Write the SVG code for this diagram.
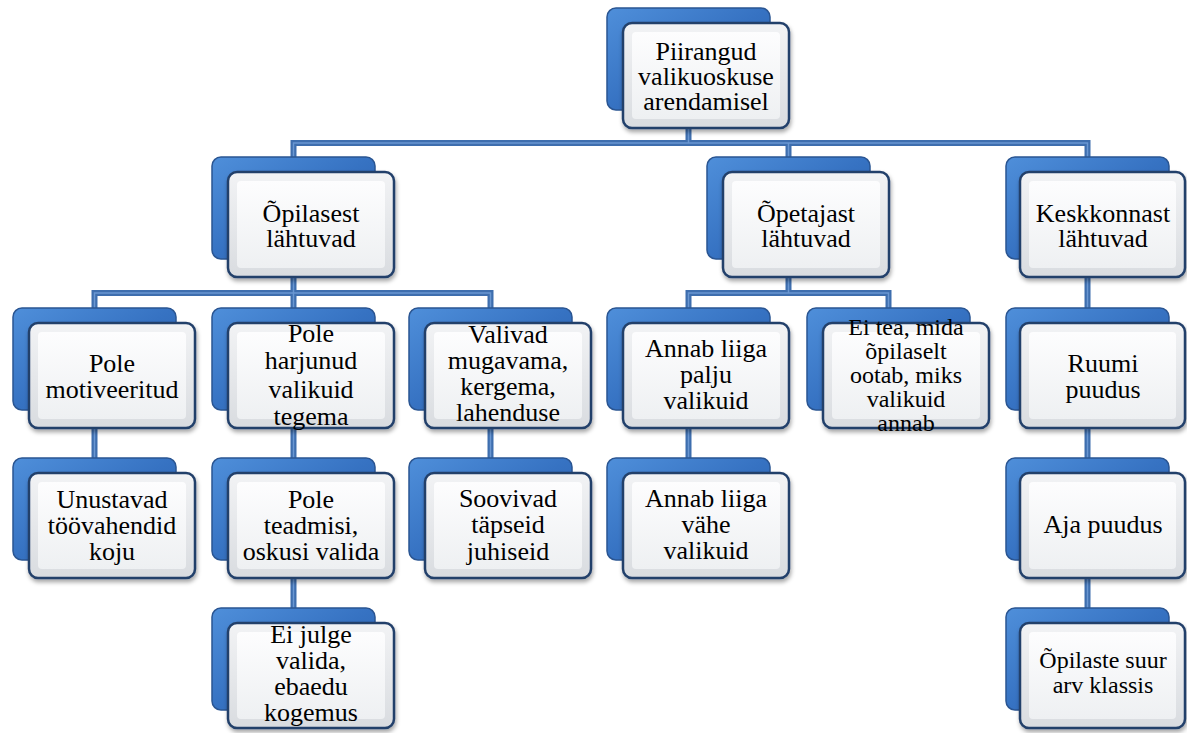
<svg xmlns="http://www.w3.org/2000/svg" width="1187" height="733" viewBox="0 0 1187 733">
<defs>
<linearGradient id="gBack" x1="0" y1="0" x2="1" y2="1">
<stop offset="0" stop-color="#4F8FDA"/>
<stop offset="0.5" stop-color="#3672C2"/>
<stop offset="1" stop-color="#2A5DA5"/>
</linearGradient>
<linearGradient id="gFront" x1="0" y1="0" x2="0" y2="1">
<stop offset="0" stop-color="#F2F3F5"/>
<stop offset="1" stop-color="#D9DCE0"/>
</linearGradient>
<linearGradient id="gInner" x1="0" y1="0" x2="0" y2="1">
<stop offset="0" stop-color="#FDFDFE"/>
<stop offset="1" stop-color="#EEF0F2"/>
</linearGradient>
<filter id="sh" x="-10%" y="-10%" width="125%" height="130%">
<feDropShadow dx="1" dy="3" stdDeviation="2" flood-color="#000" flood-opacity="0.35"/>
</filter>
</defs>
<style>
.back{fill:url(#gBack);stroke:#2A5592;stroke-width:1.5}
.front{fill:url(#gFront);stroke:#213F6B;stroke-width:2.5;filter:url(#sh)}
.inner{fill:url(#gInner);stroke:none}
.c{fill:none;stroke:#3E6EAE;stroke-width:6}
.ci{fill:none;stroke:#6A97D2;stroke-width:1.5}
.t{font-size:26px;fill:#000;text-anchor:middle}
.s24{font-size:24px}
</style>
<rect width="1187" height="733" fill="#FFFFFF"/>
<g id="connectors">
<path class="c" d="M688.5 120V143M293.5 160V143H1087.5V160M788.5 143V160M293.5 270V293M94.5 312V293H490.5V312M293.5 293V312M788.5 270V293M688.5 312V293H888.5V312M1087.5 270V312M94.5 420V462M293.5 420V612M490.5 420V462M688.5 420V462M1087.5 420V612"/>
<path class="ci" d="M688.5 120V143M293.5 160V143H1087.5V160M788.5 143V160M293.5 270V293M94.5 312V293H490.5V312M293.5 293V312M788.5 270V293M688.5 312V293H888.5V312M1087.5 270V312M94.5 420V462M293.5 420V612M490.5 420V462M688.5 420V462M1087.5 420V612"/>
</g>
<g font-family="'Liberation Serif', 'Times New Roman', Times, serif">
<g id="n0">
<rect class="back" x="607" y="8" width="163" height="102" rx="9"/>
<rect class="front" x="623" y="23" width="166" height="105" rx="9"/>
<rect class="inner" x="632" y="32" width="148" height="87" rx="4"/>
<text class="t" font-family="'Liberation Serif', serif" x="706" y="60">Piirangud<tspan x="706" dy="25">valikuoskuse</tspan><tspan x="706" dy="25">arendamisel</tspan></text>
</g>
<g id="n1">
<rect class="back" x="212" y="157" width="163" height="102" rx="9"/>
<rect class="front" x="228" y="172" width="166" height="105" rx="9"/>
<rect class="inner" x="237" y="181" width="148" height="87" rx="4"/>
<text class="t" font-family="'Liberation Serif', serif" x="311" y="222">Õpilasest<tspan x="311" dy="25">lähtuvad</tspan></text>
</g>
<g id="n2">
<rect class="back" x="707" y="157" width="163" height="102" rx="9"/>
<rect class="front" x="723" y="172" width="166" height="105" rx="9"/>
<rect class="inner" x="732" y="181" width="148" height="87" rx="4"/>
<text class="t" font-family="'Liberation Serif', serif" x="806" y="222">Õpetajast<tspan x="806" dy="25">lähtuvad</tspan></text>
</g>
<g id="n3">
<rect class="back" x="1006" y="157" width="163" height="102" rx="9"/>
<rect class="front" x="1020" y="172" width="165" height="105" rx="9"/>
<rect class="inner" x="1029" y="181" width="147" height="87" rx="4"/>
<text class="t" font-family="'Liberation Serif', serif" x="1103" y="222">Keskkonnast<tspan x="1103" dy="25">lähtuvad</tspan></text>
</g>
<g id="n4">
<rect class="back" x="13" y="308" width="163" height="102" rx="9"/>
<rect class="front" x="29" y="323" width="166" height="105" rx="9"/>
<rect class="inner" x="38" y="332" width="148" height="87" rx="4"/>
<text class="t" font-family="'Liberation Serif', serif" x="112" y="372">Pole<tspan x="112" dy="26">motiveeritud</tspan></text>
</g>
<g id="n5">
<rect class="back" x="212" y="308" width="163" height="102" rx="9"/>
<rect class="front" x="228" y="323" width="166" height="105" rx="9"/>
<rect class="inner" x="237" y="332" width="148" height="87" rx="4"/>
<text class="t" font-family="'Liberation Serif', serif" x="311" y="342">Pole<tspan x="311" dy="27">harjunud</tspan><tspan x="311" dy="29">valikuid</tspan><tspan x="311" dy="27">tegema</tspan></text>
</g>
<g id="n6">
<rect class="back" x="409" y="308" width="163" height="102" rx="9"/>
<rect class="front" x="425" y="323" width="166" height="105" rx="9"/>
<rect class="inner" x="434" y="332" width="148" height="87" rx="4"/>
<text class="t" font-family="'Liberation Serif', serif" x="508" y="343">Valivad<tspan x="508" dy="26">mugavama,</tspan><tspan x="508" dy="26">kergema,</tspan><tspan x="508" dy="26">lahenduse</tspan></text>
</g>
<g id="n7">
<rect class="back" x="607" y="308" width="163" height="102" rx="9"/>
<rect class="front" x="623" y="323" width="166" height="105" rx="9"/>
<rect class="inner" x="632" y="332" width="148" height="87" rx="4"/>
<text class="t" font-family="'Liberation Serif', serif" x="706" y="357">Annab liiga<tspan x="706" dy="26">palju</tspan><tspan x="706" dy="26">valikuid</tspan></text>
</g>
<g id="n8">
<rect class="back" x="807" y="308" width="163" height="102" rx="9"/>
<rect class="front" x="823" y="323" width="166" height="105" rx="9"/>
<rect class="inner" x="832" y="332" width="148" height="87" rx="4"/>
<text class="t s24" font-family="'Liberation Serif', serif" x="906" y="335">Ei tea, mida<tspan x="906" dy="24">õpilaselt</tspan><tspan x="906" dy="24">ootab, miks</tspan><tspan x="906" dy="24">valikuid</tspan><tspan x="906" dy="24">annab</tspan></text>
</g>
<g id="n9">
<rect class="back" x="1006" y="308" width="163" height="102" rx="9"/>
<rect class="front" x="1020" y="323" width="165" height="105" rx="9"/>
<rect class="inner" x="1029" y="332" width="147" height="87" rx="4"/>
<text class="t" font-family="'Liberation Serif', serif" x="1103" y="372">Ruumi<tspan x="1103" dy="26">puudus</tspan></text>
</g>
<g id="n10">
<rect class="back" x="13" y="458" width="163" height="102" rx="9"/>
<rect class="front" x="29" y="473" width="166" height="105" rx="9"/>
<rect class="inner" x="38" y="482" width="148" height="87" rx="4"/>
<text class="t" font-family="'Liberation Serif', serif" x="112" y="508">Unustavad<tspan x="112" dy="26">töövahendid</tspan><tspan x="112" dy="26">koju</tspan></text>
</g>
<g id="n11">
<rect class="back" x="212" y="458" width="163" height="102" rx="9"/>
<rect class="front" x="228" y="473" width="166" height="105" rx="9"/>
<rect class="inner" x="237" y="482" width="148" height="87" rx="4"/>
<text class="t" font-family="'Liberation Serif', serif" x="311" y="508">Pole<tspan x="311" dy="26">teadmisi,</tspan><tspan x="311" dy="26">oskusi valida</tspan></text>
</g>
<g id="n12">
<rect class="back" x="409" y="458" width="163" height="102" rx="9"/>
<rect class="front" x="425" y="473" width="166" height="105" rx="9"/>
<rect class="inner" x="434" y="482" width="148" height="87" rx="4"/>
<text class="t" font-family="'Liberation Serif', serif" x="508" y="507">Soovivad<tspan x="508" dy="26">täpseid</tspan><tspan x="508" dy="27">juhiseid</tspan></text>
</g>
<g id="n13">
<rect class="back" x="607" y="458" width="163" height="102" rx="9"/>
<rect class="front" x="623" y="473" width="166" height="105" rx="9"/>
<rect class="inner" x="632" y="482" width="148" height="87" rx="4"/>
<text class="t" font-family="'Liberation Serif', serif" x="706" y="507">Annab liiga<tspan x="706" dy="26">vähe</tspan><tspan x="706" dy="26">valikuid</tspan></text>
</g>
<g id="n14">
<rect class="back" x="1006" y="458" width="163" height="102" rx="9"/>
<rect class="front" x="1020" y="473" width="165" height="105" rx="9"/>
<rect class="inner" x="1029" y="482" width="147" height="87" rx="4"/>
<text class="t" font-family="'Liberation Serif', serif" x="1103" y="533">Aja puudus</text>
</g>
<g id="n15">
<rect class="back" x="212" y="608" width="163" height="102" rx="9"/>
<rect class="front" x="228" y="623" width="166" height="105" rx="9"/>
<rect class="inner" x="237" y="632" width="148" height="87" rx="4"/>
<text class="t" font-family="'Liberation Serif', serif" x="311" y="643">Ei julge<tspan x="311" dy="26">valida,</tspan><tspan x="311" dy="26">ebaedu</tspan><tspan x="311" dy="26">kogemus</tspan></text>
</g>
<g id="n16">
<rect class="back" x="1006" y="608" width="163" height="102" rx="9"/>
<rect class="front" x="1020" y="623" width="165" height="105" rx="9"/>
<rect class="inner" x="1029" y="632" width="147" height="87" rx="4"/>
<text class="t s24" font-family="'Liberation Serif', serif" x="1103" y="668">Õpilaste suur<tspan x="1103" dy="25">arv klassis</tspan></text>
</g>
</g>
</svg>
